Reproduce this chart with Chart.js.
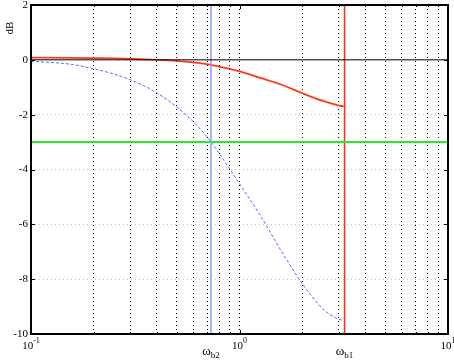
<!DOCTYPE html>
<html>
<head>
<meta charset="utf-8">
<script src="https://cdn.jsdelivr.net/npm/chart.js@4/dist/chart.umd.min.js"></script>
<style>
  body { margin: 0; background: #fff; }
  canvas { display: block; }
</style>
</head>
<body>
<canvas id="bode" width="454" height="360"></canvas>
<script>
// frequencies (rad/s) and the two magnitude curves in dB
const freq = [0.1, 0.158, 0.2, 0.25, 0.316, 0.4, 0.5, 0.63, 0.73, 0.79, 1, 1.26, 1.58, 2, 2.51, 2.94, 3.16]
const redDb = [0.08, 0.07, 0.06, 0.05, 0.03, 0.0, -0.04, -0.11, -0.18, -0.24, -0.42, -0.66, -0.9, -1.22, -1.5, -1.65, -1.7]
const blueDb = [-0.05, -0.17, -0.33, -0.52, -0.8, -1.2, -1.72, -2.42, -3.0, -3.36, -4.52, -5.68, -6.95, -8.16, -9.08, -9.44, -9.51]

const wb2 = 0.73
const wb1 = 3.19
const refLevel = -3

const xGrid = [0.1, 0.2, 0.3, 0.4, 0.5, 0.6, 0.7, 0.8, 0.9, 1, 2, 3, 4, 5, 6, 7, 8, 9, 10]
const yTicks = [-10, -8, -6, -4, -2, 0, 2]
const xLabels = [{v: 0.1, exp: "-1"}, {v: 1, exp: "0"}, {v: 10, exp: "1"}]
const wLabels = [{v: wb2, sub: "b2"}, {v: wb1, sub: "b1"}]

function pts(xs, ys) {
    return xs.map((x, i) => ({x: x, y: ys[i]}))
}

const labelFont = '"Liberation Serif", "DejaVu Serif", serif'

const frame = {
    id: "frame",
    afterDraw(chart) {
        const ctx = chart.ctx
        const a = chart.chartArea
        const xs = chart.scales.x
        const ys = chart.scales.y
        ctx.save()
        // box
        ctx.strokeStyle = "#000"
        ctx.lineWidth = 2
        ctx.strokeRect(a.left, a.top, a.right - a.left, a.bottom - a.top)
        // inner ticks
        ctx.lineWidth = 1
        ctx.beginPath()
        yTicks.forEach(v => {
            const y = Math.round(ys.getPixelForValue(v)) + 0.5
            ctx.moveTo(a.left, y); ctx.lineTo(a.left + 4, y)
            ctx.moveTo(a.right, y); ctx.lineTo(a.right - 4, y)
        })
        xGrid.forEach(v => {
            const x = Math.round(xs.getPixelForValue(v)) + 0.5
            const len = [0.1, 1, 10].includes(v) ? 4 : 2
            ctx.moveTo(x, a.bottom); ctx.lineTo(x, a.bottom - len)
            ctx.moveTo(x, a.top); ctx.lineTo(x, a.top + len)
        })
        ctx.stroke()

        // y tick labels
        ctx.fillStyle = "#000"
        ctx.font = "11px " + labelFont
        ctx.textAlign = "right"
        ctx.textBaseline = "middle"
        yTicks.forEach(v => {
            ctx.fillText(String(v), a.left - 3, ys.getPixelForValue(v))
        })

        // x tick labels 10^n
        xLabels.forEach(l => {
            const x = xs.getPixelForValue(l.v)
            ctx.font = "11px " + labelFont
            const w1 = ctx.measureText("10").width
            ctx.font = "8px " + labelFont
            const w2 = ctx.measureText(l.exp).width
            const x0 = x - (w1 + w2) / 2
            ctx.textAlign = "left"
            ctx.textBaseline = "alphabetic"
            ctx.font = "11px " + labelFont
            ctx.fillText("10", x0, a.bottom + 15)
            ctx.font = "8px " + labelFont
            ctx.fillText(l.exp, x0 + w1, a.bottom + 9)
        })

        // omega labels
        wLabels.forEach(l => {
            const x = xs.getPixelForValue(l.v)
            ctx.font = "13px " + labelFont
            const w1 = ctx.measureText("\u03c9").width
            ctx.font = "9px " + labelFont
            const w2 = ctx.measureText(l.sub).width
            const x0 = x - (w1 + w2) / 2
            ctx.textAlign = "left"
            ctx.textBaseline = "alphabetic"
            ctx.font = "13px " + labelFont
            ctx.fillText("\u03c9", x0, a.bottom + 21)
            ctx.font = "9px " + labelFont
            ctx.fillText(l.sub, x0 + w1, a.bottom + 24)
        })

        // dB axis title
        ctx.translate(10, 28)
        ctx.rotate(-Math.PI / 2)
        ctx.font = "11px " + labelFont
        ctx.textAlign = "center"
        ctx.textBaseline = "middle"
        ctx.fillText("dB", 0, 0)
        ctx.restore()
    }
}

new Chart(document.getElementById("bode").getContext("2d"), {
    type: "line",
    data: {
        datasets: [
            {
                data: pts([0.1, 10], [0, 0]),
                borderColor: "#000",
                borderWidth: 1
            },
            {
                data: pts([0.1, 10], [refLevel, refLevel]),
                borderColor: "#22ee22",
                borderWidth: 2
            },
            {
                data: pts([wb2, wb2], [-10, 2]),
                borderColor: "#8899ff",
                borderWidth: 1.5
            },
            {
                data: pts([wb1, wb1], [-10, 2]),
                borderColor: "#ff2a10",
                borderWidth: 1.5
            },
            {
                data: pts(freq, redDb),
                borderColor: "#ff3a1a",
                borderWidth: 1.8,
                cubicInterpolationMode: "monotone"
            },
            {
                data: pts(freq, blueDb),
                borderColor: "#4a6cff",
                borderWidth: 1,
                borderDash: [3, 2],
                cubicInterpolationMode: "monotone"
            }
        ]
    },
    options: {
        responsive: false,
        animation: false,
        layout: {padding: {left: 31, right: 6, top: 5, bottom: 26}},
        elements: {point: {radius: 0}},
        plugins: {legend: {display: false}, tooltip: {enabled: false}},
        scales: {
            x: {
                type: "logarithmic",
                min: 0.1,
                max: 10,
                afterBuildTicks: scale => { scale.ticks = xGrid.map(v => ({value: v})) },
                ticks: {display: false},
                grid: {color: "#000", lineWidth: 1, drawTicks: false},
                border: {display: false, dash: [1, 3]}
            },
            y: {
                min: -10,
                max: 2,
                afterBuildTicks: scale => { scale.ticks = yTicks.map(v => ({value: v})) },
                ticks: {display: false},
                grid: {color: "#c4c4c4", lineWidth: 1, drawTicks: false},
                border: {display: false, dash: [1, 3]}
            }
        }
    },
    plugins: [frame]
})
</script>
</body>
</html>
